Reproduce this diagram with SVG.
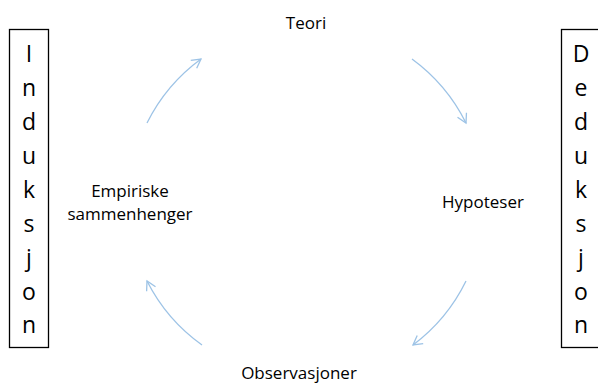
<svg xmlns="http://www.w3.org/2000/svg" width="598" height="390" viewBox="0 0 598 390">
<defs>
<style>
.t{font-family:"Open Sans","Liberation Sans",sans-serif;fill:#000;text-anchor:middle}
.lbl{font-size:17px}
.col{font-size:23px}
.box{fill:#fff;stroke:#000;stroke-width:1.3}
.arc{fill:none;stroke:#9dc3e6;stroke-width:1.3;marker-end:url(#ah)}
</style>
<marker id="ah" viewBox="0 0 12 12" refX="10" refY="6" markerWidth="12" markerHeight="12" markerUnits="userSpaceOnUse" orient="auto">
<path d="M1,1 L10,6 L1,11" fill="none" stroke="#9dc3e6" stroke-width="1.3"/>
</marker>
</defs>
<rect width="598" height="390" fill="#fff"/>
<g id="induksjon">
<rect class="box" x="9.5" y="29.5" width="39" height="318"/>
<text class="t col"><tspan x="29" y="62">I</tspan><tspan x="29" y="96">n</tspan><tspan x="29" y="130">d</tspan><tspan x="29" y="164">u</tspan><tspan x="29" y="198">k</tspan><tspan x="29" y="232">s</tspan><tspan x="29" y="266">j</tspan><tspan x="29" y="300">o</tspan><tspan x="29" y="333">n</tspan></text>
</g>
<g id="deduksjon">
<rect class="box" x="561.5" y="29.5" width="50" height="318"/>
<text class="t col"><tspan x="581" y="62">D</tspan><tspan x="581" y="96">e</tspan><tspan x="581" y="130">d</tspan><tspan x="581" y="164">u</tspan><tspan x="581" y="198">k</tspan><tspan x="581" y="232">s</tspan><tspan x="581" y="266">j</tspan><tspan x="581" y="300">o</tspan><tspan x="581" y="333">n</tspan></text>
</g>
<g id="teori"><text class="t lbl" x="306" y="29">Teori</text></g>
<g id="hypoteser"><text class="t lbl" x="483" y="208">Hypoteser</text></g>
<g id="empiriske"><text class="t lbl"><tspan x="130" y="197">Empiriske</tspan><tspan x="130" y="220">sammenhenger</tspan></text></g>
<g id="observasjoner"><text class="t lbl" x="299" y="379">Observasjoner</text></g>
<g id="connectors">
<path class="arc" d="M147,123 A177,177 0 0 1 201,59"/>
<path class="arc" d="M412,59 A177,177 0 0 1 466,123"/>
<path class="arc" d="M466,281 A177,177 0 0 1 413,345"/>
<path class="arc" d="M202,345 A177,177 0 0 1 147,281"/>
</g>
</svg>
